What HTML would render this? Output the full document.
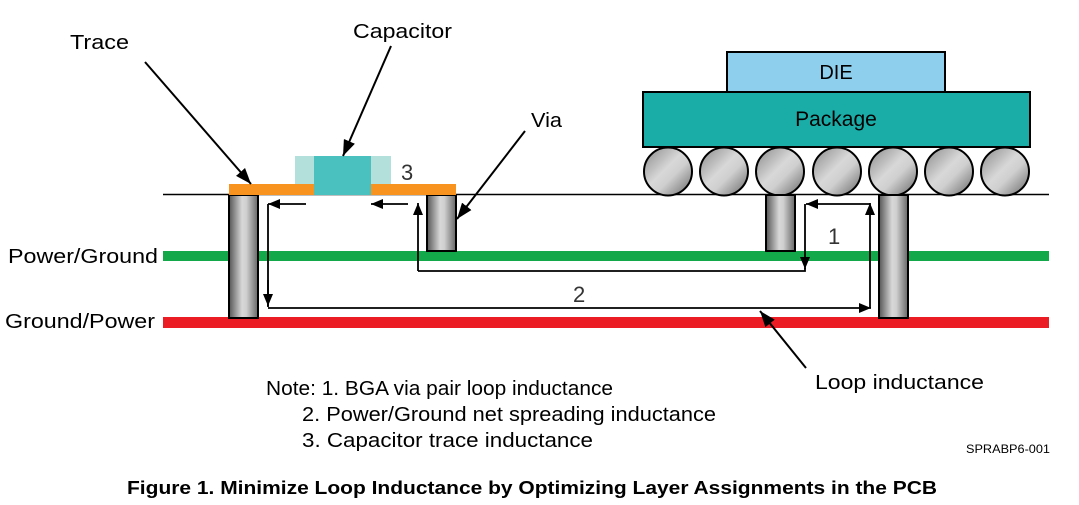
<!DOCTYPE html>
<html><head><meta charset="utf-8"><style>html,body{margin:0;padding:0;background:#fff}svg{display:block}</style></head><body>
<svg width="1079" height="505" viewBox="0 0 1079 505" xmlns="http://www.w3.org/2000/svg" font-family="Liberation Sans, Arial, sans-serif">
<defs>
<linearGradient id="via" x1="0" x2="1" y1="0" y2="0">
<stop offset="0" stop-color="#555"/><stop offset="0.45" stop-color="#d8d8d8"/><stop offset="0.6" stop-color="#cfcfcf"/><stop offset="1" stop-color="#666"/></linearGradient>
<linearGradient id="ball" x1="0" x2="1" y1="0" y2="1">
<stop offset="0" stop-color="#888"/><stop offset="0.45" stop-color="#d8d8d8"/><stop offset="0.6" stop-color="#cfcfcf"/><stop offset="1" stop-color="#666"/></linearGradient>
<marker id="ah" markerWidth="12" markerHeight="10" refX="12" refY="5" orient="auto" markerUnits="userSpaceOnUse"><path d="M0,0 L12,5 L0,10 z" fill="#000"/></marker>
<marker id="ah2" markerWidth="16" markerHeight="12" refX="16" refY="6" orient="auto" markerUnits="userSpaceOnUse"><path d="M0,0 L16,6 L0,12 z" fill="#000"/></marker>
</defs>
<rect x="163" y="251" width="886" height="10" fill="#13a84a"/>
<rect x="163" y="317" width="886" height="11" fill="#ec1c24"/>
<line x1="163" y1="194.5" x2="1049" y2="194.5" stroke="#000" stroke-width="1.6"/>
<rect x="727" y="52" width="218" height="40" fill="#8fcfee" stroke="#000" stroke-width="2"/>
<rect x="643" y="92" width="387" height="55" fill="#1aada8" stroke="#000" stroke-width="2"/>
<text x="836" y="79" font-size="20" text-anchor="middle">DIE</text>
<text x="836" y="126" font-size="21" text-anchor="middle">Package</text>
<g fill="url(#ball)" stroke="#000" stroke-width="2">
<circle cx="668" cy="171.5" r="24"/><circle cx="724" cy="171.5" r="24"/><circle cx="780" cy="171.5" r="24"/><circle cx="837" cy="171.5" r="24"/><circle cx="893" cy="171.5" r="24"/><circle cx="949" cy="171.5" r="24"/><circle cx="1005" cy="171.5" r="24"/>
</g>
<g fill="url(#via)" stroke="#000" stroke-width="2">
<rect x="229" y="195" width="29" height="123"/>
<rect x="427" y="195" width="29" height="56"/>
<rect x="766" y="195" width="29" height="56"/>
<rect x="879" y="195" width="29" height="123"/>
</g>
<rect x="295" y="156" width="96" height="28" fill="#b4e0dc"/>
<rect x="229" y="184" width="227" height="11" fill="#f7931e"/>
<rect x="314" y="156" width="57" height="39" fill="#4bc1bf"/>
<text x="401" y="180" font-size="22" fill="#333">3</text>
<g stroke="#000" stroke-width="1.8" fill="none">
<line x1="306" y1="204" x2="268" y2="204" marker-end="url(#ah)"/>
<line x1="408" y1="204" x2="371" y2="204" marker-end="url(#ah)"/>
<polyline points="268,204 268,307"/>
<line x1="268" y1="280" x2="268" y2="306" marker-end="url(#ah)"/>
<line x1="268" y1="308" x2="871" y2="308" marker-end="url(#ah)"/>
<line x1="870" y1="308" x2="870" y2="203" marker-end="url(#ah)"/>
<line x1="870" y1="204" x2="806" y2="204" marker-end="url(#ah)"/>
<line x1="805" y1="204" x2="805" y2="269" marker-end="url(#ah)"/>
<polyline points="805,268 805,271 418,271"/>
<line x1="418" y1="271" x2="418" y2="203" marker-end="url(#ah)"/>
</g>
<g stroke="#000" stroke-width="2" fill="none">
<line x1="145" y1="62" x2="251" y2="184" marker-end="url(#ah2)"/>
<line x1="391" y1="46" x2="343" y2="156" marker-end="url(#ah2)"/>
<line x1="525" y1="131" x2="457" y2="219" marker-end="url(#ah2)"/>
<line x1="806" y1="368" x2="760" y2="311" marker-end="url(#ah2)"/>
</g>
<text x="828" y="244" font-size="22" fill="#333">1</text>
<text x="573" y="302" font-size="22" fill="#333">2</text>
<g font-size="20" fill="#000">
<text x="70" y="49" textLength="59" lengthAdjust="spacingAndGlyphs">Trace</text>
<text x="353" y="38" textLength="99" lengthAdjust="spacingAndGlyphs">Capacitor</text>
<text x="531" y="127" textLength="31" lengthAdjust="spacingAndGlyphs">Via</text>
<text x="8" y="263" textLength="150" lengthAdjust="spacingAndGlyphs">Power/Ground</text>
<text x="5" y="328" textLength="150" lengthAdjust="spacingAndGlyphs">Ground/Power</text>
<text x="815" y="389" textLength="169" lengthAdjust="spacingAndGlyphs">Loop inductance</text>
<text x="266" y="395" textLength="347" lengthAdjust="spacingAndGlyphs">Note: 1. BGA via pair loop inductance</text>
<text x="302" y="421" textLength="414" lengthAdjust="spacingAndGlyphs">2. Power/Ground net spreading inductance</text>
<text x="302" y="447" textLength="291" lengthAdjust="spacingAndGlyphs">3. Capacitor trace inductance</text>
</g>
<text x="966" y="453" font-size="12" textLength="84" lengthAdjust="spacingAndGlyphs">SPRABP6-001</text>
<text x="127" y="494" font-size="18" font-weight="bold" textLength="810" lengthAdjust="spacingAndGlyphs">Figure 1. Minimize Loop Inductance by Optimizing Layer Assignments in the PCB</text>
</svg>
</body></html>
